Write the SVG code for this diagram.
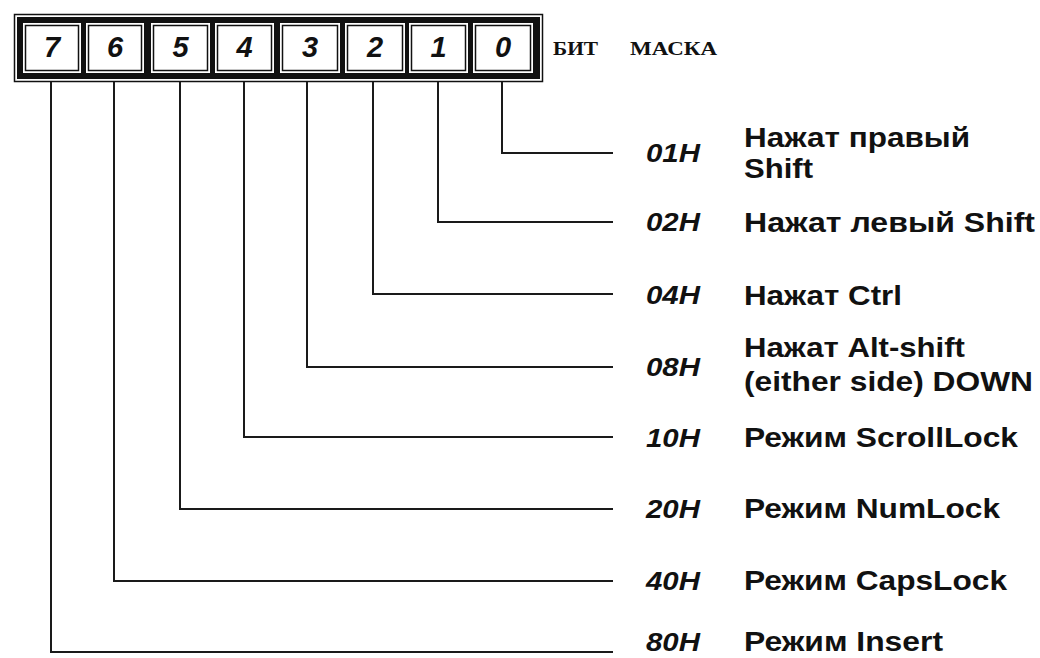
<svg xmlns="http://www.w3.org/2000/svg" width="1040" height="658" viewBox="0 0 1040 658">
<style>
.cell{fill:#fff;stroke:none}
.cin{fill:none;stroke:#111;stroke-width:1.5}
.dig{font-family:"Liberation Sans",Arial,sans-serif;font-weight:bold;font-style:italic;font-size:29px;fill:#111;text-anchor:middle}
.hdr{font-family:"Liberation Serif","Times New Roman",serif;font-weight:bold;font-size:19px;fill:#111}
.hex{font-family:"Liberation Sans",Arial,sans-serif;font-weight:bold;font-style:italic;font-size:26px;fill:#111;text-anchor:end}
.desc{font-family:"Liberation Sans",Arial,sans-serif;font-weight:bold;font-size:28px;fill:#111}
.con{fill:none;stroke:#1a1a1a;stroke-width:2}
</style>
<rect width="1040" height="658" fill="#fff"/>
<g id="register">
<rect x="14.5" y="14.5" width="528" height="67" fill="#fff" stroke="#111" stroke-width="1.5"/>
<rect x="17" y="17" width="523" height="62" fill="#111"/>
</g>
<g id="bit7"><rect class="cell" x="23" y="23" width="58" height="50"/><rect class="cin" x="25.5" y="25.5" width="53" height="45"/><text class="dig" x="52" y="57">7</text></g>
<g id="bit6"><rect class="cell" x="86" y="23" width="58" height="50"/><rect class="cin" x="88.5" y="25.5" width="53" height="45"/><text class="dig" x="115" y="57">6</text></g>
<g id="bit5"><rect class="cell" x="151" y="23" width="59" height="50"/><rect class="cin" x="153.5" y="25.5" width="54" height="45"/><text class="dig" x="180.5" y="57">5</text></g>
<g id="bit4"><rect class="cell" x="215" y="23" width="59" height="50"/><rect class="cin" x="217.5" y="25.5" width="54" height="45"/><text class="dig" x="244.5" y="57">4</text></g>
<g id="bit3"><rect class="cell" x="280" y="23" width="60" height="50"/><rect class="cin" x="282.5" y="25.5" width="55" height="45"/><text class="dig" x="310" y="57">3</text></g>
<g id="bit2"><rect class="cell" x="345" y="23" width="60" height="50"/><rect class="cin" x="347.5" y="25.5" width="55" height="45"/><text class="dig" x="375" y="57">2</text></g>
<g id="bit1"><rect class="cell" x="409" y="23" width="59" height="50"/><rect class="cin" x="411.5" y="25.5" width="54" height="45"/><text class="dig" x="438.5" y="57">1</text></g>
<g id="bit0"><rect class="cell" x="473" y="23" width="60" height="50"/><rect class="cin" x="475.5" y="25.5" width="55" height="45"/><text class="dig" x="503" y="57">0</text></g>
<g id="header">
<text class="hdr" x="553" y="55" textLength="45" lengthAdjust="spacingAndGlyphs">БИТ</text>
<text class="hdr" x="630" y="55" textLength="87" lengthAdjust="spacingAndGlyphs">МАСКА</text>
</g>
<g id="connectors">
<polyline class="con" points="502,82 502,153 613,153"/>
<polyline class="con" points="438,82 438,222 613,222"/>
<polyline class="con" points="373,82 373,294 613,294"/>
<polyline class="con" points="307,82 307,367 613,367"/>
<polyline class="con" points="244,82 244,437 613,437"/>
<polyline class="con" points="180,82 180,509 613,509"/>
<polyline class="con" points="114,82 114,581 613,581"/>
<polyline class="con" points="51,82 51,652 613,652"/>
</g>
<g id="label01"><text class="hex" x="700" y="162" textLength="54" lengthAdjust="spacingAndGlyphs">01H</text><text class="desc" x="744" y="147" textLength="226" lengthAdjust="spacingAndGlyphs">Нажат правый</text><text class="desc" x="744" y="178" textLength="69" lengthAdjust="spacingAndGlyphs">Shift</text></g>
<g id="label02"><text class="hex" x="700" y="231" textLength="54" lengthAdjust="spacingAndGlyphs">02H</text><text class="desc" x="744" y="232" textLength="291" lengthAdjust="spacingAndGlyphs">Нажат левый Shift</text></g>
<g id="label04"><text class="hex" x="700" y="304" textLength="54" lengthAdjust="spacingAndGlyphs">04H</text><text class="desc" x="744" y="305" textLength="158" lengthAdjust="spacingAndGlyphs">Нажат Ctrl</text></g>
<g id="label08"><text class="hex" x="700" y="376" textLength="54" lengthAdjust="spacingAndGlyphs">08H</text><text class="desc" x="744" y="357" textLength="221" lengthAdjust="spacingAndGlyphs">Нажат Alt-shift</text><text class="desc" x="744" y="391" textLength="289" lengthAdjust="spacingAndGlyphs">(either side) DOWN</text></g>
<g id="label10"><text class="hex" x="700" y="447" textLength="54" lengthAdjust="spacingAndGlyphs">10H</text><text class="desc" x="744" y="447" textLength="274" lengthAdjust="spacingAndGlyphs">Режим ScrollLock</text></g>
<g id="label20"><text class="hex" x="700" y="518" textLength="54" lengthAdjust="spacingAndGlyphs">20H</text><text class="desc" x="744" y="518" textLength="256" lengthAdjust="spacingAndGlyphs">Режим NumLock</text></g>
<g id="label40"><text class="hex" x="700" y="590" textLength="54" lengthAdjust="spacingAndGlyphs">40H</text><text class="desc" x="744" y="590" textLength="263" lengthAdjust="spacingAndGlyphs">Режим CapsLock</text></g>
<g id="label80"><text class="hex" x="700" y="651" textLength="54" lengthAdjust="spacingAndGlyphs">80H</text><text class="desc" x="744" y="651" textLength="199" lengthAdjust="spacingAndGlyphs">Режим Insert</text></g>
</svg>
